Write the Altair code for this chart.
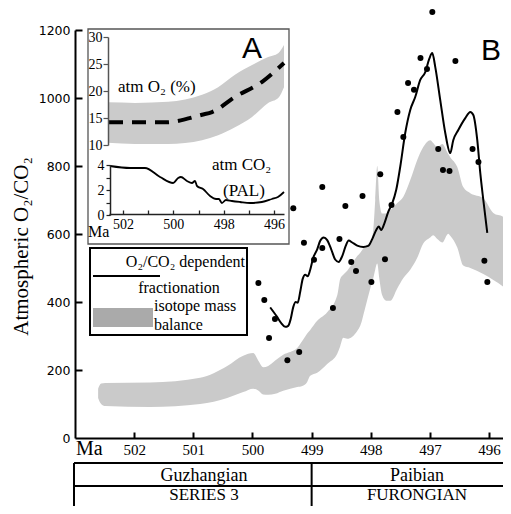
import altair as alt
import pandas as pd

# ---------------- main panel B data ----------------
band_ma = [502.609, 502.558, 502.490, 501.729, 500.884, 500.427, 500.157, 499.988, 499.903,
           499.818, 499.734, 499.616, 499.480, 499.244, 499.159, 499.075, 499.024, 498.906,
           498.737, 498.567, 498.517, 498.466, 498.398, 498.229, 498.178, 498.094, 498.009,
           497.959, 497.925, 497.891, 497.857, 497.807, 497.739, 497.671, 497.553, 497.452,
           497.333, 497.215, 497.113, 496.995, 496.944, 496.876, 496.792, 496.691, 496.657,
           496.538, 496.437, 496.318, 496.098, 495.929, 495.760, 495.625]
band_lo = [118, 100, 94, 91, 100, 118, 135, 145, 140,
           128, 127, 130, 139, 150, 153, 165, 183, 192,
           218, 248, 270, 295, 292, 315, 330, 383, 440,
           469, 495, 513, 470, 420, 404, 404, 440, 470,
           495, 530, 572, 590, 596, 585, 575, 601, 595,
           560, 507, 500, 482, 465, 445, 425]
band_hi = [145, 160, 162, 163, 177, 212, 242, 250, 228,
           208, 212, 228, 245, 265, 285, 307, 318, 345,
           370, 420, 468, 480, 492, 535, 545, 565, 575,
           610, 700, 800, 700, 660, 660, 670, 691, 709,
           759, 818, 856, 876, 868, 856, 865, 835, 826,
           797, 738, 720, 705, 662, 650, 615]

line_ma = [499.700, 499.587, 499.514, 499.447, 499.396, 499.354, 499.311, 499.269, 499.235,
           499.193, 499.151, 499.108, 499.066, 499.024, 498.973, 498.906, 498.855, 498.796,
           498.737, 498.669, 498.602, 498.543, 498.483, 498.424, 498.374, 498.314, 498.229,
           498.128, 498.043, 497.976, 497.908, 497.866, 497.824, 497.773, 497.705, 497.638,
           497.570, 497.503, 497.418, 497.333, 497.249, 497.164, 497.079, 497.012, 496.961,
           496.910, 496.826, 496.741, 496.657, 496.606, 496.521, 496.403, 496.318, 496.267,
           496.200, 496.149, 496.098, 496.031]
line_v = [384, 357, 338, 327, 330, 350, 385, 400, 398,
          430, 468, 480, 476, 495, 530, 555, 580, 590,
          582, 555, 525, 518, 535, 565, 581, 575, 566,
          562, 565, 585, 612, 622, 612, 630, 665, 690,
          730, 797, 897, 965, 1003, 1053, 1076, 1115, 1132,
          1091, 994, 897, 838, 876, 906, 941, 959, 950,
          876, 779, 700, 603]

dot_ma = [496.96, 497.16, 496.57, 497.05, 497.37, 497.27, 497.55, 497.45, 496.86,
          496.78, 496.67, 496.28, 496.18, 497.84, 498.14, 498.82, 498.43, 499.31,
          497.65, 499.13, 498.53, 498.82, 498.96, 498.33, 498.25, 497.76, 497.99,
          499.90, 499.80, 499.62, 499.72, 498.64, 499.21, 499.41, 496.08, 496.03]
dot_v = [1253, 1118, 1109, 1085, 1044, 1024, 959, 885, 850,
         788, 785, 850, 812, 776, 712, 738, 682, 676,
         685, 574, 585, 559, 524, 518, 491, 526, 459,
         456, 406, 350, 294, 382, 253, 229, 521, 459]

# ---------------- inset A data ----------------
o2_ma = [502.60, 501.52, 500.21, 498.86, 498.22, 497.55, 496.87, 496.23, 495.83, 495.60]
o2_lo = [10.4, 10.2, 10.2, 10.9, 11.8, 13.3, 15.2, 17.8, 18.7, 20.7]
o2_hi = [17.9, 17.8, 18.0, 19.3, 20.7, 23.0, 24.8, 26.3, 27.0, 28.5]

o2_mid_ma = [502.56, 500.33, 498.86, 498.46, 497.55, 496.47, 495.60]
o2_mid = [14.2, 14.2, 15.6, 16.1, 18.9, 21.7, 25.2]

co2_ma = [502.52, 501.72, 501.13, 500.53, 500.01, 499.81, 499.70, 499.46, 499.26, 499.14,
          499.06, 498.82, 498.54, 498.30, 498.19, 498.07, 497.91, 497.67, 497.35, 496.95,
          496.48, 496.08, 495.84, 495.60]
co2_v = [3.92, 3.76, 3.76, 3.04, 2.56, 2.96, 3.04, 2.72, 2.56, 2.72,
         2.32, 2.08, 1.52, 1.28, 1.28, 0.96, 1.20, 1.12, 1.04, 0.96,
         1.04, 1.28, 1.44, 1.84]

main_ticks = [502, 501, 500, 499, 498, 497, 496]
inset_labels = [502, 500, 498, 496]
y_ticks = [0, 200, 400, 600, 800, 1000, 1200]

stage_names = ["Guzhangian", "Paibian"]
series_names = ["SERIES 3", "FURONGIAN"]
label_ma = [500.82, 497.22]
boundary_ma = [499]

SERIF = "Liberation Serif"
SANS = "Liberation Sans"

W, H = 428, 408        # visible plot box (the figure is cropped on the right)
XR = 436               # pixel span of the Ma scale (continues past the crop)

MAIN_X = alt.Scale(domain=[503.0, 495.63], range=[0, XR], nice=False, zero=False)
MAIN_Y = alt.Scale(domain=[0, 1200], nice=False, zero=False)
INS_X = alt.Scale(domain=[502.56, 495.6], range=[34, 209], nice=False, zero=False)
O2_Y = alt.Scale(domain=[10, 30], range=[115, 7], nice=False, zero=False)
CO2_Y = alt.Scale(domain=[0, 4], range=[185, 135], nice=False, zero=False)

AX_MAIN_LEFT = alt.Axis(orient="left", values=y_ticks, ticks=False, tickSize=0, domain=True,
                        domainColor="black", domainWidth=2, labelFont="DejaVu Sans",
                        labelFontSize=12.5, labelColor="black", labelPadding=5, grid=False,
                        format="d",
                        title="Atmospheric O₂/CO₂", titleFont=SERIF, titleFontSize=21,
                        titleFontWeight="normal", titleColor="black", titleX=-54, titleY=216,
                        titleAngle=270, titleAlign="center", titleBaseline="middle", zindex=1)
AX_LEFT_TICKS = alt.Axis(orient="right", offset=-W, values=y_ticks[1:], labels=False, domain=False,
                         tickSize=7, tickWidth=2, tickColor="black", grid=False, title=None, zindex=1)
AX_MAIN_BOTTOM = alt.Axis(orient="bottom", values=main_ticks, ticks=False, tickSize=0, domain=True,
                          domainWidth=2, domainColor="black", labelFont=SERIF, labelFontSize=15,
                          labelColor="black", labelPadding=4, labelFlush=False, labelOverlap=False,
                          grid=False, title=None, format="d", zindex=1)
AX_MAIN_TOP = alt.Axis(orient="top", offset=-H, values=main_ticks, labels=False, domain=False,
                       tickSize=6, tickWidth=2, tickColor="black", grid=False, title=None, zindex=1)
AX_INS_BOTTOM = alt.Axis(orient="bottom", offset=-224, values=inset_labels, ticks=False, tickSize=0,
                         domain=True, domainColor="#222", domainWidth=1.5, labelFont=SERIF,
                         labelFontSize=14, labelColor="black", labelPadding=3, labelFlush=False,
                         labelOverlap=False, grid=False, title=None, format="d", zindex=1)
AX_INS_TOP = alt.Axis(orient="top", offset=-184, values=main_ticks, labels=False, domain=False,
                      tickSize=4, tickWidth=1.3, tickColor="#222", grid=False, title=None, zindex=1)
AX_O2 = alt.Axis(orient="left", offset=-33, values=[10, 15, 20, 25, 30], tickSize=5, tickColor="#555",
                 tickWidth=1.2, domainColor="#555", domainWidth=1.5, labelFont=SERIF, labelFontSize=14,
                 labelColor="black", labelPadding=1, grid=False, title=None, format="d", zindex=1)
AX_CO2 = alt.Axis(orient="left", offset=-35, values=[0, 1, 2, 3, 4],
                  labelExpr="datum.value % 2 == 0 ? datum.label : ''", tickSize=4, tickColor="#222",
                  tickWidth=1.2, domainColor="#222", domainWidth=1.5, labelFont=SERIF, labelFontSize=14,
                  labelColor="black", labelPadding=2, grid=False, title=None, format="d", zindex=1)

band_df = pd.DataFrame({"ma": band_ma, "lo": band_lo, "hi": band_hi})
line_df = pd.DataFrame({"ma": line_ma, "v": line_v, "i": range(len(line_ma))})
dot_df = pd.DataFrame({"ma": dot_ma, "v": dot_v})
o2_df = pd.DataFrame({"ma": o2_ma, "lo": o2_lo, "hi": o2_hi})
o2m_df = pd.DataFrame({"ma": o2_mid_ma, "v": o2_mid, "i": range(len(o2_mid_ma))})
co2_df = pd.DataFrame({"ma": co2_ma, "v": co2_v, "i": range(len(co2_ma))})
one = pd.DataFrame({"a": [0]})

band = alt.Chart(band_df).mark_area(color="#cacaca", interpolate="monotone").encode(
    x=alt.X("ma:Q", scale=MAIN_X, axis=AX_MAIN_BOTTOM),
    y=alt.Y("lo:Q", scale=MAIN_Y, axis=AX_MAIN_LEFT),
    y2="hi:Q")

line = alt.Chart(line_df).mark_line(color="black", strokeWidth=2, interpolate="monotone").encode(
    x=alt.X("ma:Q", scale=MAIN_X, axis=AX_MAIN_TOP),
    y=alt.Y("v:Q", scale=MAIN_Y, axis=AX_LEFT_TICKS),
    order="i:Q")

dots = alt.Chart(dot_df).mark_circle(color="black", opacity=1, size=36).encode(
    x=alt.X("ma:Q", scale=MAIN_X, axis=None),
    y=alt.Y("v:Q", scale=MAIN_Y, axis=None))

frame = alt.Chart(one).mark_rect(fill="white", stroke="#555", strokeWidth=1.3).encode(
    x=alt.value(13), x2=alt.value(214), y=alt.value(-1), y2=alt.value(214))

o2_band = alt.Chart(o2_df).mark_area(color="#cbcbcb", interpolate="monotone").encode(
    x=alt.X("ma:Q", scale=INS_X, axis=AX_INS_BOTTOM),
    y=alt.Y("lo:Q", scale=O2_Y, axis=AX_O2),
    y2="hi:Q")

o2_line = alt.Chart(o2m_df).mark_line(color="black", strokeWidth=4, strokeDash=[14, 9],
                                      interpolate="monotone").encode(
    x=alt.X("ma:Q", scale=INS_X, axis=AX_INS_TOP),
    y=alt.Y("v:Q", scale=O2_Y, axis=None),
    order="i:Q")

co2_line = alt.Chart(co2_df).mark_line(color="black", strokeWidth=1.8, interpolate="monotone").encode(
    x=alt.X("ma:Q", scale=INS_X, axis=None),
    y=alt.Y("v:Q", scale=CO2_Y, axis=AX_CO2),
    order="i:Q")


def txt(text, x, y, size, font=SERIF, align="left", baseline="alphabetic"):
    return alt.Chart(pd.DataFrame({"t": [text]})).mark_text(
        font=font, fontSize=size, align=align, baseline=baseline, color="black").encode(
        text="t:N", x=alt.value(x), y=alt.value(y))


texts = [
    txt("atm O₂ (%)", 43, 62, 17),
    txt("A", 167, 28, 30, font=SANS),
    txt("atm CO₂", 137, 140, 17),
    txt("(PAL)", 148, 166, 17),
    txt("Ma", 13, 207, 16),
    txt("B", 406, 30, 30, font=SANS),
    txt("Ma", 1, 425, 20),
]

# legend
leg_frame = alt.Chart(one).mark_rect(fill="white", stroke="black", strokeWidth=2).encode(
    x=alt.value(15), x2=alt.value(172), y=alt.value(218), y2=alt.value(305))
leg_line = alt.Chart(one).mark_rule(color="black", strokeWidth=2).encode(
    x=alt.value(18), x2=alt.value(85), y=alt.value(246))
leg_rect = alt.Chart(one).mark_rect(color="#aaaaaa").encode(
    x=alt.value(18), x2=alt.value(78), y=alt.value(278), y2=alt.value(297))
leg_texts = [
    txt("O₂/CO₂ dependent", 170, 237, 16, align="right"),
    txt("fractionation", 104, 263, 16, align="center"),
    txt("isotope mass", 79, 281, 16),
    txt("balance", 79, 300, 16),
]

# stratigraphic table
hrules = alt.Chart(pd.DataFrame({"y": [433, 456]})).mark_rule(color="black", strokeWidth=2).encode(
    x=alt.value(-1), x2=alt.value(XR + 2), y=alt.Y("y:Q", scale=None))
left_border = alt.Chart(one).mark_rule(color="black", strokeWidth=2).encode(
    x=alt.value(-1), y=alt.value(433), y2=alt.value(490))
divider = alt.Chart(pd.DataFrame({"ma": boundary_ma})).mark_rule(color="black", strokeWidth=2).encode(
    x=alt.X("ma:Q", scale=MAIN_X, axis=None), y=alt.value(433), y2=alt.value(490))
stage_txt = alt.Chart(pd.DataFrame({"ma": label_ma, "t": stage_names})).mark_text(
    font=SERIF, fontSize=18, align="center", baseline="alphabetic", color="black").encode(
    x=alt.X("ma:Q", scale=MAIN_X, axis=None), y=alt.value(451), text="t:N")
series_txt = alt.Chart(pd.DataFrame({"ma": label_ma, "t": series_names})).mark_text(
    font=SERIF, fontSize=17, align="center", baseline="alphabetic", color="black").encode(
    x=alt.X("ma:Q", scale=MAIN_X, axis=None), y=alt.value(470), text="t:N")

chart = alt.layer(
    band, line, dots, frame, o2_band, o2_line, co2_line,
    *texts, leg_frame, leg_line, leg_rect, *leg_texts,
    hrules, left_border, divider, stage_txt, series_txt
).resolve_scale(x="independent", y="independent").properties(
    width=W, height=H,
    autosize=alt.AutoSizeParams(type="none"),
    padding={"left": 67, "top": 22, "right": 0, "bottom": 68},
).configure_view(stroke=None)

chart.save("out.html", embed_options={"renderer": "svg", "actions": False})
